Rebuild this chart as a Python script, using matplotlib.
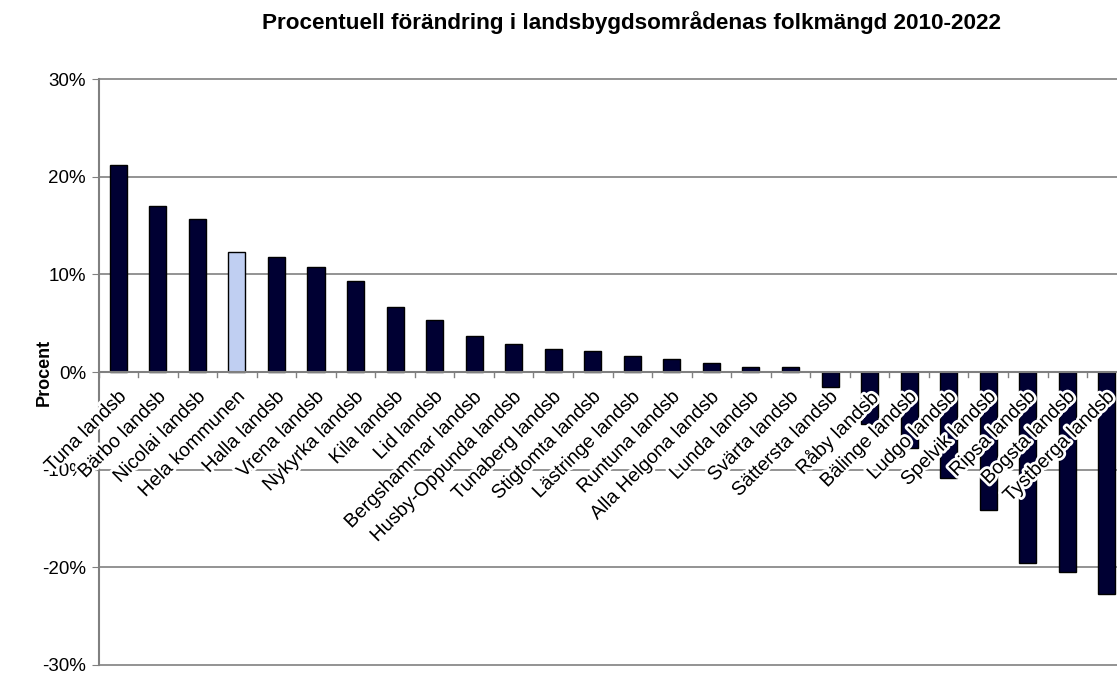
import matplotlib.pyplot as plt
import matplotlib.ticker as mticker
import matplotlib.patheffects as pe
import numpy as np

plt.rcParams['font.family'] = ['Liberation Sans', 'DejaVu Sans']

# områden och procentuell förändring 2010-2022
omraden = ['Tuna landsb', 'Bärbo landsb', 'Nicolai landsb', 'Hela kommunen',
           'Halla landsb', 'Vrena landsb', 'Nykyrka landsb', 'Kila landsb',
           'Lid landsb', 'Bergshammar landsb', 'Husby-Oppunda landsb',
           'Tunaberg landsb', 'Stigtomta landsb', 'Lästringe landsb',
           'Runtuna landsb', 'Alla Helgona landsb', 'Lunda landsb',
           'Svärta landsb', 'Sättersta landsb', 'Råby landsb',
           'Bälinge landsb', 'Ludgo landsb', 'Spelvik landsb', 'Ripsa landsb',
           'Bogsta landsb', 'Tystberga landsb']
forandring = [21.2, 17.0, 15.7, 12.3, 11.8, 10.8, 9.35, 6.65, 5.3, 3.7,
              2.87, 2.35, 2.2, 1.65, 1.33, 0.92, 0.55, 0.48, -1.5, -5.3,
              -7.8, -10.9, -14.1, -19.6, -20.5, -22.7]
y_ticks = [-30, -20, -10, 0, 10, 20, 30]

fig = plt.figure(figsize=(11.17, 6.73), dpi=100)
# plot area runs a bit past the right edge, like the original
ax = fig.add_axes([0.0882, 0.0119, 0.9204, 0.8707])

x = np.arange(len(omraden))
colors = ['#c0cff2' if n == 'Hela kommunen' else '#000033' for n in omraden]
ax.bar(x, forandring, width=0.43, color=colors, edgecolor='black', linewidth=1, zorder=3)

ax.set_xlim(-0.5, len(omraden) - 0.5)
ax.set_ylim(-30, 30)
ax.set_yticks(y_ticks)
ax.yaxis.set_major_formatter(mticker.FuncFormatter(lambda v, p: f'{v:.0f}%'))
for v in y_ticks:
    ax.axhline(v, color='#808080', linewidth=1.2, zorder=0, clip_on=False)
ax.tick_params(axis='y', length=5, color='#808080', labelsize=13.5, pad=4)

for s in ['top', 'right', 'bottom']:
    ax.spines[s].set_visible(False)
ax.spines['left'].set_color('#808080')
ax.spines['left'].set_linewidth(1.5)
ax.axhline(0, color='#808080', linewidth=1.5, zorder=4)

# kategorimarkeringar på nollinjen
ax.set_xticks([])
for b in np.arange(len(omraden) + 1) - 0.5:
    ax.plot([b, b], [0, -0.5], color='#808080', linewidth=1, zorder=4, clip_on=False)

for xi, name in zip(x, omraden):
    t = ax.text(xi + 0.0, -1.6, name, rotation=45, ha='right', va='top',
                rotation_mode='anchor', fontsize=14, zorder=5)
    t.set_path_effects([pe.withStroke(linewidth=4, foreground='white')])

fig.text(0.04, 0.447, 'Procent', rotation=90, ha='center', va='center',
         fontsize=13, fontweight='bold')
fig.text(0.565, 0.967, 'Procentuell förändring i landsbygdsområdenas folkmängd 2010-2022',
         ha='center', va='center', fontsize=16.2, fontweight='bold')

fig.savefig('out.png', dpi=100)
